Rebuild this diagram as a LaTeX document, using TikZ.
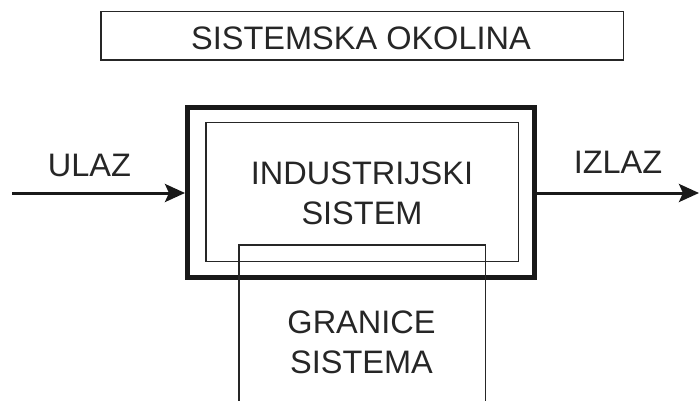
\documentclass[tikz,border=0pt]{standalone}
\usepackage{fontspec}
\setmainfont{Liberation Sans}
\usetikzlibrary{arrows.meta}
\begin{document}
\begin{tikzpicture}[x=1pt, y=-1pt,
  label/.style={inner sep=0pt, text=black!85, font=\fontsize{32.5}{39}\selectfont},
  thinbox/.style={draw=black!85, line width=1.5pt},
  thickbox/.style={draw=black!90, line width=5pt, inner sep=0pt},
  flow/.style={draw=black!90, line width=3pt, -{Stealth[length=20pt, width=18pt, inset=4pt]}}]
\useasboundingbox (0,0) rectangle (699,401);
\node[thinbox, minimum width=522.5, minimum height=48.5, inner sep=0pt] (okolina) at (362,36) {};
\node[label, anchor=base] (okolinatxt) at (361,50) {SISTEMSKA OKOLINA};
\node[thickbox, minimum width=347, minimum height=170] (sistem) at (361,192.5) {};
\draw[thinbox] (205.75,122.75) rectangle (518.25,261.25);
\draw[thinbox] (238.75,401) |- (485.25,244.75) -- (485.25,401);
\node[label, anchor=base] (ind1) at (362,185) {INDUSTRIJSKI};
\node[label, anchor=base] (ind2) at (362,224) {SISTEM};
\node[label, anchor=base] (gr1) at (361.5,333) {GRANICE};
\node[label, anchor=base] (gr2) at (361.5,373) {SISTEMA};
\node[label, anchor=base] (ulaz) at (89.5,176) {ULAZ};
\node[label, anchor=base] (izlaz) at (618,174) {IZLAZ};
\coordinate (ulazpoc) at (12,193);
\coordinate (izlazkraj) at (699,193);
\draw[flow] (ulazpoc) -- (sistem.west |- ulazpoc);
\draw[flow] (sistem.east |- izlazkraj) -- (izlazkraj);
\end{tikzpicture}
\end{document}
